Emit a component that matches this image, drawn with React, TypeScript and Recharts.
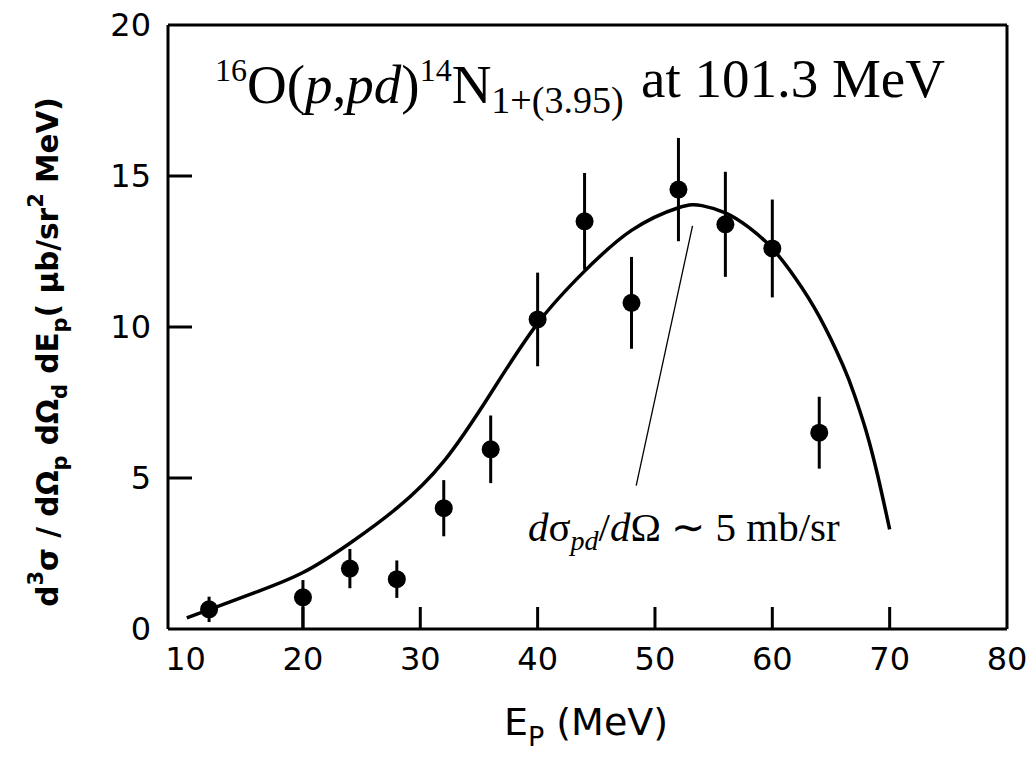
import React from "react";
import {
  ComposedChart,
  Scatter,
  Line,
  XAxis,
  YAxis,
  ErrorBar,
  ReferenceLine,
} from "recharts";

// Measured points
const energies = [12, 20, 24, 28, 32, 36, 40, 44, 48, 52, 56, 60, 64];
const sigma = [0.65, 1.05, 2.0, 1.65, 4.0, 5.95, 10.25, 13.5, 10.8, 14.55, 13.4, 12.6, 6.5];
const errLow = [0.42, 1.05, 0.65, 0.62, 0.93, 1.12, 1.55, 1.6, 1.52, 1.71, 1.74, 1.62, 1.19];
const errHigh = [0.42, 0.57, 0.65, 0.62, 0.93, 1.12, 1.55, 1.6, 1.52, 1.71, 1.74, 1.62, 1.19];

// Theory curve
const curveE = [10.1, 12.7, 16, 20, 24, 28, 32, 36, 40, 44, 48, 52, 54, 56, 58, 60, 62, 64, 66, 67, 68, 69, 70];
const curveS = [0.37, 0.74, 1.22, 1.87, 2.84, 4.0, 5.55, 7.8, 10.12, 11.85, 13.2, 13.95, 14.02, 13.78, 13.3, 12.6, 11.6, 10.35, 8.75, 7.75, 6.55, 5.05, 3.3];

// Ticks
const xTicks = [10, 20, 30, 40, 50, 60, 70, 80];
const yTicks = [0, 5, 10, 15, 20];

// Pointer line of the annotation
const pointerFrom = { x: 53.2, y: 13.35 };
const pointerTo = { x: 48.4, y: 4.75 };

const points = energies.map((e, i) => ({ x: e, y: sigma[i], err: [errLow[i], errHigh[i]] }));
const curve = curveE.map((e, i) => ({ x: e, y: curveS[i] }));

const SANS = "'DejaVu Sans', sans-serif";
const SERIF = "'Liberation Serif', 'Times New Roman', serif";

const XTick = (props: any) => {
  const { x, y, payload } = props;
  const v = payload.value;
  const inner = v > 10 && v < 80;
  return (
    <g>
      {inner && <line x1={x} y1={y} x2={x} y2={y - 22} stroke="#000" strokeWidth={3} />}
      <text x={x} y={y + 41} textAnchor="middle" fontFamily={SANS} fontSize={32} fill="#000">
        {v}
      </text>
    </g>
  );
};

const YTick = (props: any) => {
  const { x, y, payload } = props;
  const v = payload.value;
  const inner = v > 0 && v < 20;
  return (
    <g>
      {inner && <line x1={x} y1={y} x2={x + 24} y2={y} stroke="#000" strokeWidth={3} />}
      <text x={x - 17} y={y + 11} textAnchor="end" fontFamily={SANS} fontSize={32} fill="#000">
        {v}
      </text>
    </g>
  );
};

const Dot = (props: any) => <circle cx={props.cx} cy={props.cy} r={9} fill="#000" />;

export default function App() {
  return (
    <div style={{ position: "absolute", left: 0, top: 0, width: 1029, height: 759, background: "#fff" }}>
      <ComposedChart width={1029} height={759} margin={{ top: 25, right: 22, bottom: 70, left: 108 }}>
        <XAxis
          dataKey="x"
          type="number"
          domain={[8.5, 80]}
          ticks={xTicks}
          allowDataOverflow
          height={60}
          tickSize={0}
          tickMargin={0}
          tickLine={false}
          axisLine={{ stroke: "#000", strokeWidth: 3 }}
          tick={<XTick />}
        />
        <YAxis
          type="number"
          domain={[0, 20]}
          ticks={yTicks}
          allowDataOverflow
          width={60}
          tickSize={0}
          tickMargin={0}
          tickLine={false}
          axisLine={{ stroke: "#000", strokeWidth: 3 }}
          tick={<YTick />}
        />
        <ReferenceLine y={20} stroke="#000" strokeWidth={3} />
        <ReferenceLine x={80} stroke="#000" strokeWidth={3} />
        <ReferenceLine segment={[pointerFrom, pointerTo]} stroke="#000" strokeWidth={1.3} />
        <Line
          data={curve}
          dataKey="y"
          type="natural"
          stroke="#000"
          strokeWidth={3.5}
          dot={false}
          activeDot={false}
          isAnimationActive={false}
        />
        <Scatter data={points} dataKey="y" shape={<Dot />} isAnimationActive={false}>
          <ErrorBar dataKey="err" direction="y" width={0} stroke="#000" strokeWidth={3} />
        </Scatter>
      </ComposedChart>
      <svg width={1029} height={759} style={{ position: "absolute", left: 0, top: 0, pointerEvents: "none" }}>
        <text x={215} y={103} fontFamily={SERIF} fontSize={55} fill="#000">
          <tspan fontSize={32} dy={-22}>16</tspan>
          <tspan dy={22}>O(</tspan>
          <tspan fontStyle="italic">p</tspan>
          <tspan>,</tspan>
          <tspan fontStyle="italic">pd</tspan>
          <tspan>)</tspan>
          <tspan fontSize={32} dy={-22}>14</tspan>
          <tspan dy={22}>N</tspan>
          <tspan fontSize={38} dy={10}>1+(3.95)</tspan>
        </text>
        <text x={641} y={97} fontFamily={SERIF} fontSize={55} fill="#000">at 101.3 MeV</text>
        <text x={528} y={541} fontFamily={SERIF} fontSize={41} fill="#000">
          <tspan fontStyle="italic">d</tspan>
          <tspan>σ</tspan>
          <tspan fontStyle="italic" fontSize={28} dy={9}>pd</tspan>
          <tspan dy={-9}>/</tspan>
          <tspan fontStyle="italic">d</tspan>
          <tspan>Ω ∼ 5 mb/sr</tspan>
        </text>
        <text
          x={58}
          y={352}
          transform="rotate(-90, 58, 352)"
          textAnchor="middle"
          fontFamily={SANS}
          fontWeight="bold"
          fontSize={29.5}
          fill="#000"
        >
          <tspan>d</tspan>
          <tspan fontSize={21} dy={-15}>3</tspan>
          <tspan dy={15}>σ / dΩ</tspan>
          <tspan fontSize={21} dy={9}>p</tspan>
          <tspan dy={-9}> dΩ</tspan>
          <tspan fontSize={21} dy={9}>d</tspan>
          <tspan dy={-9}> dE</tspan>
          <tspan fontSize={21} dy={9}>p</tspan>
          <tspan dy={-9}>( μb/sr</tspan>
          <tspan fontSize={21} dy={-15}>2</tspan>
          <tspan dy={15}>  MeV)</tspan>
        </text>
        <text x={586} y={735} textAnchor="middle" fontFamily={SANS} fontSize={38} fill="#000">
          <tspan>E</tspan>
          <tspan fontSize={27} dy={11}>P</tspan>
          <tspan dy={-11}> (MeV)</tspan>
        </text>
      </svg>
    </div>
  );
}
